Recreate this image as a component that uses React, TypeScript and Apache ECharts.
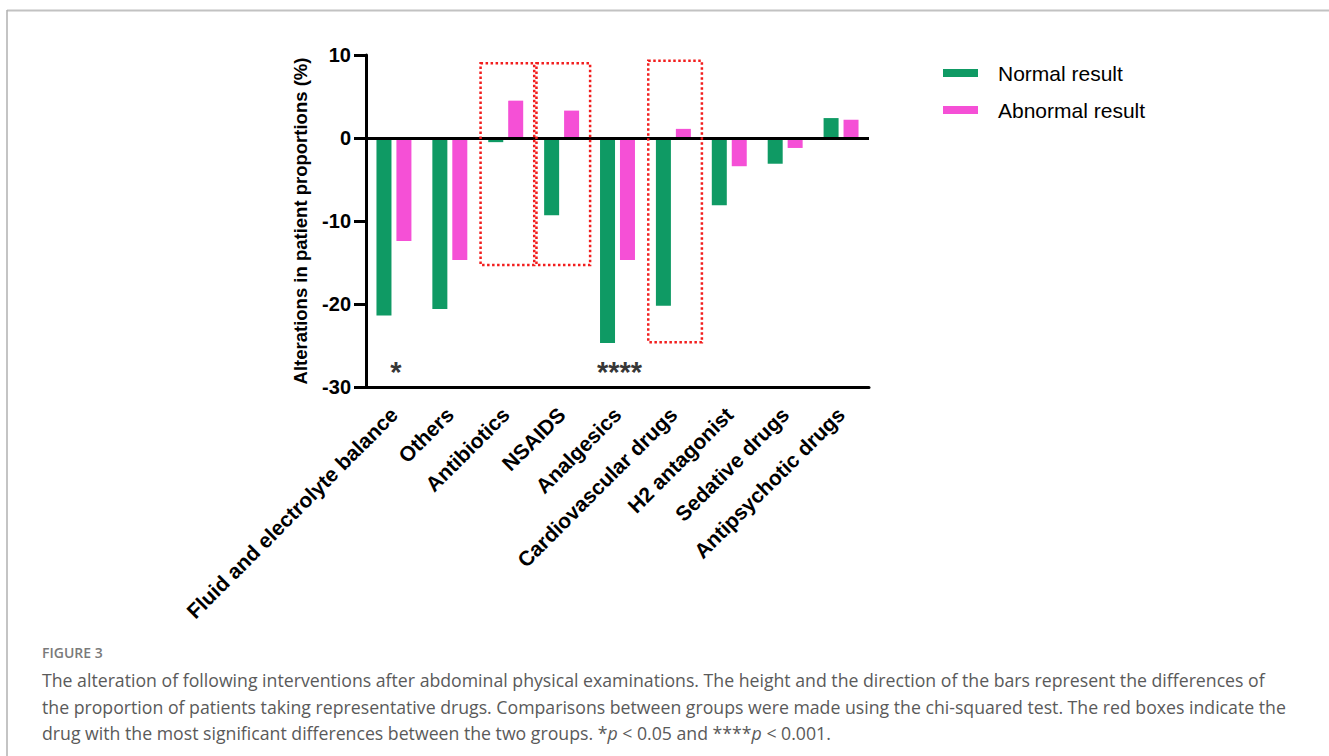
import React, { useEffect, useRef } from "react";
import * as echarts from "echarts";

const categories = [
  "Fluid and electrolyte balance",
  "Others",
  "Antibiotics",
  "NSAIDS",
  "Analgesics",
  "Cardiovascular drugs",
  "H2 antagonist",
  "Sedative drugs",
  "Antipsychotic drugs",
];
const normalResult = [-21.4, -20.6, -0.5, -9.3, -24.7, -20.2, -8.1, -3.1, 2.4];
const abnormalResult = [-12.4, -14.7, 4.5, 3.3, -14.7, 1.1, -3.4, -1.2, 2.2];
const yTicks = [-30, -20, -10, 0, 10];

const boxCategories = ["Antibiotics", "NSAIDS", "Cardiovascular drugs"];
const boxTop = [9.0, 9.0, 9.3];
const boxBottom = [-15.3, -15.3, -24.6];

const starCategories = ["Fluid and electrolyte balance", "Analgesics"];
const starMarks = ["*", "****"];
const starLevel = -28.2;

const captionTitle = "FIGURE 3";
const captionLines = [
  "The alteration of following interventions after abdominal physical examinations. The height and the direction of the bars represent the differences of",
  "the proportion of patients taking representative drugs. Comparisons between groups were made using the chi-squared test. The red boxes indicate the",
];
const captionLast = "drug with the most significant differences between the two groups. *{i|p} < 0.05 and ****{i|p} < 0.001.";

const GREEN = "#0f9a64";
const PINK = "#f550d6";
const FONT = "'Liberation Sans', Arial, sans-serif";
const CAP_FONT = "'Open Sans', Lato, sans-serif";

export default function App() {
  const ref = useRef<HTMLDivElement>(null);
  useEffect(() => {
    document.body.style.margin = "0";
    const chart = echarts.init(ref.current!, null, { renderer: "svg" });
    const option: any = {
      animation: false,
      backgroundColor: "#ffffff",
      grid: { left: 366, right: 460, top: 55, bottom: 369 },
      legend: {
        orient: "vertical",
        left: 943,
        top: 62,
        padding: 0,
        icon: "rect",
        itemWidth: 35,
        itemHeight: 8,
        itemGap: 15,
        data: ["Normal result", "Abnormal result"],
        textStyle: {
          fontFamily: FONT,
          fontSize: 21,
          color: "#000",
          lineHeight: 22,
          padding: [0, 0, 0, 15],
        },
      },
      xAxis: {
        type: "category",
        data: categories,
        axisLine: { onZero: false, lineStyle: { color: "#000", width: 3 } },
        axisTick: { alignWithLabel: true, length: 13, lineStyle: { color: "#000", width: 3 } },
        axisLabel: {
          interval: 0,
          rotate: 45,
          margin: 24,
          color: "#000",
          fontFamily: FONT,
          fontWeight: "bold",
          fontSize: 21,
        },
      },
      yAxis: {
        type: "value",
        min: yTicks[0],
        max: yTicks[yTicks.length - 1],
        interval: 10,
        name: "Alterations in patient proportions (%)",
        nameLocation: "middle",
        nameRotate: 90,
        nameGap: 56,
        nameTextStyle: { fontFamily: FONT, fontWeight: "bold", fontSize: 18.5, color: "#000" },
        axisLine: { show: true, lineStyle: { color: "#000", width: 3 } },
        axisTick: { show: true, length: 12, lineStyle: { color: "#000", width: 3 } },
        splitLine: { show: false },
        axisLabel: { margin: 15, color: "#000", fontFamily: FONT, fontWeight: "bold", fontSize: 20 },
      },
      series: [
        {
          name: "Normal result",
          type: "bar",
          data: normalResult,
          barWidth: 15,
          barGap: "33%",
          itemStyle: { color: GREEN },
          markLine: {
            silent: true,
            symbol: "none",
            label: { show: false },
            lineStyle: { color: "#000", width: 3, type: "solid" },
            data: [{ yAxis: 0 }],
          },
        },
        {
          name: "Abnormal result",
          type: "bar",
          data: abnormalResult,
          barWidth: 15,
          itemStyle: { color: PINK },
        },
        {
          type: "custom",
          silent: true,
          data: boxCategories.map((c, i) => [categories.indexOf(c), boxTop[i], boxBottom[i]]),
          encode: { x: 0, y: [1, 2] },
          renderItem: (params: any, api: any) => {
            const idx = api.value(0);
            const p1 = api.coord([idx, api.value(1)]);
            const p2 = api.coord([idx, api.value(2)]);
            const bw = api.size([1, 0])[0];
            return {
              type: "rect",
              shape: { x: p1[0] - 0.45 * bw, y: p1[1], width: 0.96 * bw, height: p2[1] - p1[1] },
              style: { fill: "none", stroke: "#f21d1d", lineWidth: 2.5, lineDash: [2.5, 2.5] },
            };
          },
          z: 5,
        },
        {
          type: "scatter",
          silent: true,
          symbolSize: 1,
          itemStyle: { color: "rgba(0,0,0,0)" },
          data: starCategories.map((c, i) => [c, starLevel, starMarks[i]]),
          label: {
            show: true,
            position: "inside",
            offset: [2, 0],
            formatter: (p: any) => p.value[2],
            color: "#000",
            fontFamily: FONT,
            fontWeight: "bold",
            fontSize: 29,
          },
        },
      ],
      graphic: [
        { type: "line", shape: { x1: 7, y1: 10.5, x2: 1329, y2: 10.5 }, style: { stroke: "#c2c2c2", lineWidth: 2 } },
        { type: "line", shape: { x1: 7, y1: 10, x2: 7, y2: 756 }, style: { stroke: "#b0b0b0", lineWidth: 1.5 } },
        {
          type: "text",
          x: 42,
          y: 652,
          style: { text: captionTitle, font: `600 14px ${CAP_FONT}`, fill: "#7a7a7a", verticalAlign: "middle" },
        },
        ...captionLines.map((t, i) => ({
          type: "text",
          x: 42,
          y: 680 + i * 26.5,
          style: { text: t, font: `17.7px ${CAP_FONT}`, fill: "#5a5a5a", verticalAlign: "middle" },
        })),
        {
          type: "text",
          x: 42,
          y: 680 + 2 * 26.5,
          style: {
            text: captionLast,
            font: `17.7px ${CAP_FONT}`,
            fill: "#5a5a5a",
            verticalAlign: "middle",
            rich: { i: { fontStyle: "italic", fontFamily: CAP_FONT, fontSize: 17.7, fill: "#5a5a5a" } },
          },
        },
      ],
    };
    chart.setOption(option);
    return () => chart.dispose();
  }, []);
  return <div ref={ref} style={{ width: 1329, height: 756 }} />;
}
